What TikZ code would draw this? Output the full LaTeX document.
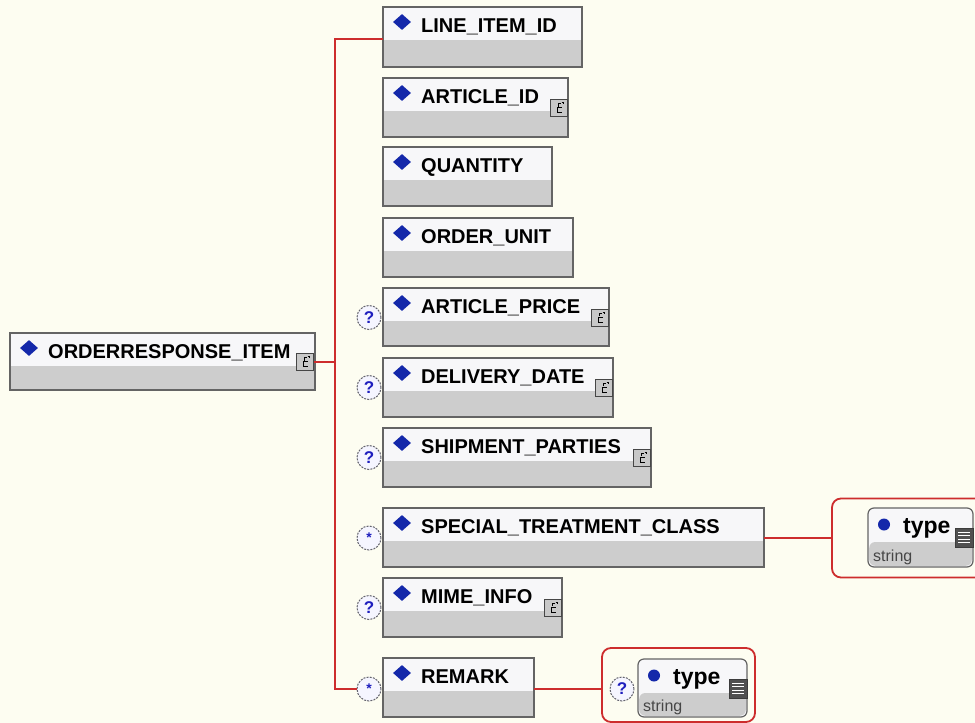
\documentclass[tikz,border=0pt]{standalone}
\usepackage{fontspec}
\setmainfont{Liberation Sans}
\usetikzlibrary{shapes.geometric,calc}
\definecolor{bgc}{RGB}{253,253,241}
\definecolor{redc}{RGB}{205,45,45}
\definecolor{boxline}{RGB}{100,100,100}
\definecolor{boxtop}{RGB}{247,247,249}
\definecolor{boxgrey}{RGB}{205,205,205}
\definecolor{diablue}{RGB}{20,40,170}
\definecolor{qblue}{RGB}{30,30,190}
\definecolor{strgrey}{RGB}{70,70,70}
\definecolor{occline}{RGB}{100,100,110}
\definecolor{occfill}{RGB}{245,245,255}
\definecolor{icline}{RGB}{70,70,70}
\definecolor{icfill}{RGB}{200,200,200}
\definecolor{tifill}{RGB}{80,80,80}
\definecolor{tiline}{RGB}{60,60,60}
\newcommand\lblfont[1]{\fontsize{#1}{#1}\selectfont\bfseries}
\tikzset{
  elbox/.style={rectangle, draw=boxline, line width=1.4pt, fill=boxtop, inner sep=0pt, outer sep=0pt,
    path picture={\fill[boxgrey] ([xshift=1.2pt,yshift=1.2pt]path picture bounding box.south west) rectangle ([xshift=-1.2pt,yshift=-33pt]path picture bounding box.north east);}},
  tbox/.style={rectangle, rounded corners=6pt, draw=boxline, line width=1.2pt, fill=boxtop, inner sep=0pt, outer sep=0pt,
    path picture={\fill[boxgrey] ([xshift=1.2pt,yshift=1.2pt]path picture bounding box.south west) rectangle ([xshift=-1.2pt,yshift=-34pt]path picture bounding box.north east);}},
  diam/.style={diamond, fill=diablue, inner sep=0pt, minimum width=18pt, minimum height=16pt},
  dotc/.style={circle, fill=diablue, inner sep=0pt, minimum size=12pt},
  occ/.style={circle, draw=occline, dash pattern=on 2pt off 1.2pt, line width=1pt,
    fill=occfill, minimum size=24pt, inner sep=0pt, text=qblue},
  ciconbox/.style={rectangle, draw=icline, line width=0.9pt, fill=icfill, minimum width=17pt, minimum height=17pt, inner sep=0pt},
  ticon/.style={rectangle, fill=tifill, draw=tiline, minimum width=18pt, minimum height=19pt, inner sep=0pt},
  redbox/.style={rectangle, draw=redc, line width=1.8pt, rounded corners=9pt, inner sep=0pt},
  redl/.style={draw=redc, line width=1.8pt},
  lbl/.style={inner sep=0pt, anchor=base west}
}
% element box: name, left, top, right, bottom, label, size
\newcommand\elem[7]{%
  \node[elbox, minimum width={(#4-#2)*1pt}, minimum height={(#5-#3)*1pt}] (#1) at ({(#2+#4)/2},{(#3+#5)/2}) {};
  \node[diam] (#1-d) at ({#2+19},{#3+15}) {};
  \node[lbl, font=\lblfont{#7}] (#1-t) at ({#2+38},{#3+25}) {#6};
}
% complex-type icon: name, cx, cy
\newcommand\cicon[3]{%
  \node[ciconbox] (#1) at (#2,#3) {};
  \draw[line width=0.8pt] ($(#1.center)+(2.5,-0.5)$) -- ++(-4.5,0) -- ++(0,5) -- ++(5,0);
  \draw[line width=0.7pt] ($(#1.center)+(-1,-1.5)$) -- ++(0,-3) -- ++(3,0);
  \draw[line width=0.6pt] ($(#1.center)+(2.5,-5.5)$) -- ++(1.5,0) -- ++(0,1.5);
}
% type box: name, left, top, right, bottom
\newcommand\typebox[5]{%
  \node[tbox, minimum width={(#4-#2)*1pt}, minimum height={(#5-#3)*1pt}] (#1) at ({(#2+#4)/2},{(#3+#5)/2}) {};
  \node[dotc] (#1-d) at ({#2+16},{#3+16.5}) {};
  \node[lbl, font=\lblfont{23}] (#1-t) at ({#2+35},{#3+25}) {type};
  \node[lbl, font=\fontsize{16}{16}\selectfont, text=strgrey] (#1-s) at ({#2+5},{#5-5.5}) {string};
  \node[ticon] (#1-i) at ({#4-9},{#3+29.5}) {};
  \foreach \k in {-5.5,-2,1.5,5} {\draw[white, line width=1pt] ($(#1-i.center)+(-6,\k)$) -- ++(12,0);}
}
\begin{document}
\begin{tikzpicture}[x=1pt,y=-1pt]
\useasboundingbox (0,0) rectangle (975,723);
\clip (0,0) rectangle (975,723);
\fill[bgc] (0,0) rectangle (975,723);

% red containers
\node[redbox, minimum width=158pt, minimum height=79pt] (c1) at (911,538) {};
\node[redbox, minimum width=153pt, minimum height=74pt] (c2) at (678.5,685) {};

% trunk coordinates
\coordinate (tT) at (335,39);
\coordinate (tB) at (335,689);
\coordinate (tM) at (335,362);

% root
\elem{root}{10}{333}{315}{390}{ORDERRESPONSE\_ITEM}{20}
\cicon{root-i}{305}{362}

% children
\elem{n1}{383}{7}{582}{67}{LINE\_ITEM\_ID}{20}
\elem{n2}{383}{78}{568}{137}{ARTICLE\_ID}{20}
\cicon{n2-i}{559}{108}
\elem{n3}{383}{147}{552}{206}{QUANTITY}{20}
\elem{n4}{383}{218}{573}{277}{ORDER\_UNIT}{20}
\elem{n5}{383}{288}{609}{346}{ARTICLE\_PRICE}{20}
\cicon{n5-i}{600}{317.5}
\elem{n6}{383}{358}{613}{417}{DELIVERY\_DATE}{20}
\cicon{n6-i}{604}{387.5}
\elem{n7}{383}{428}{651}{487}{SHIPMENT\_PARTIES}{20}
\cicon{n7-i}{642}{457.5}
\elem{n8}{383}{508}{764}{567}{SPECIAL\_TREATMENT\_CLASS}{20}
\elem{n9}{383}{578}{562}{637}{MIME\_INFO}{20}
\cicon{n9-i}{553}{607.5}
\elem{n10}{383}{658}{534}{717}{REMARK}{20}

% occurrence circles
\node[occ, font=\lblfont{17}] (n5-q) at (369,317.5) {?};
\node[occ, font=\lblfont{17}] (n6-q) at (369,387.5) {?};
\node[occ, font=\lblfont{17}] (n7-q) at (369,457.5) {?};
\node[occ, font=\lblfont{14}] (n8-s) at (369,538) {*};
\node[occ, font=\lblfont{17}] (n9-q) at (369,607.5) {?};
\node[occ, font=\lblfont{14}] (n10-s) at (369,689) {*};

% type boxes
\typebox{t1}{868}{508}{973}{567}
\typebox{t2}{638}{659}{747}{717}
\node[occ, font=\lblfont{17}] (t2-q) at (622,689) {?};

% connectors
\draw[redl] (root-i.east |- tM) -- (tM);
\draw[redl] (n1.west |- tT) -- (tT) -- (tB) -- (n10-s);
\draw[redl] (n8.east |- c1.west) -- (c1.west);
\draw[redl] (n10.east |- tB) -- (tB -| c2.west);
\end{tikzpicture}
\end{document}
